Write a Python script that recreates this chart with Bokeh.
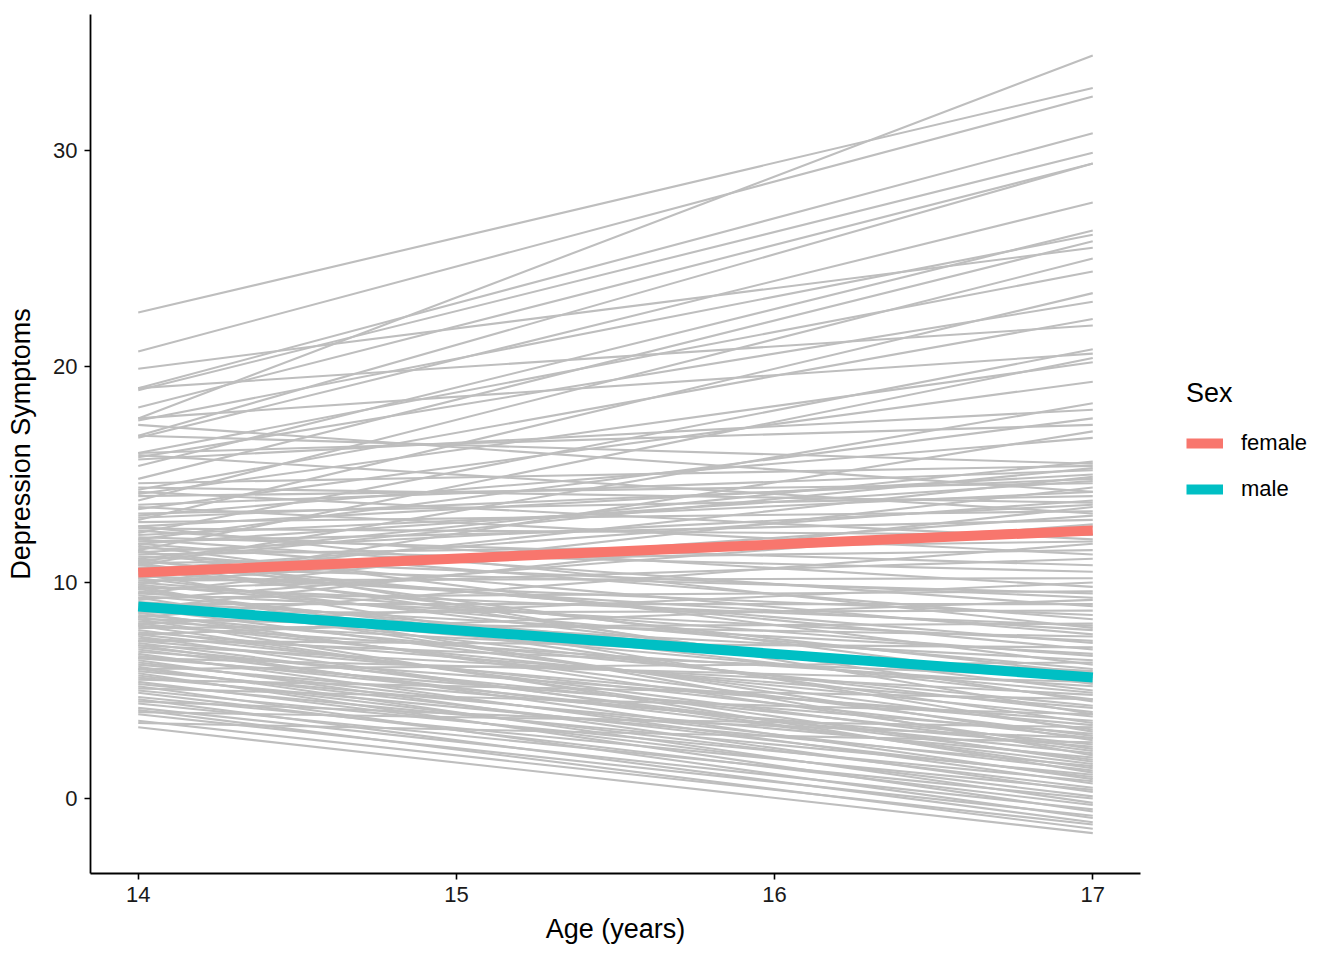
from bokeh.plotting import figure
from bokeh.layouts import row
from bokeh.models import Range1d, FixedTicker, Legend, LegendItem
from bokeh.embed import file_html
from bokeh.resources import INLINE

# ages where each person's fitted line is drawn
ages = [14, 17]

# fitted depression symptoms per person at age 14 and at age 17
dep_at_14 = [
    22.5, 20.7, 17.6, 19.0, 18.9, 18.1, 16.8, 16.7, 15.4, 17.5, 14.8, 19.9, 13.8, 16.0, 12.9, 15.8,
    14.3, 19.0, 12.3, 17.6, 11.5, 14.1, 13.4, 10.8, 15.7, 12.0, 16.0, 9.9, 13.1, 11.1, 14.6, 16.8,
    17.3, 15.9, 14.2,
    13.6, 12.6, 10.2, 11.8, 14.0, 9.5, 12.2, 13.2, 10.6, 11.4, 8.8, 12.8, 10.0, 14.4, 13.0, 11.0,
    11.9, 10.4, 9.2, 12.5, 11.3, 8.4, 10.9, 13.5, 9.7, 12.1,
    11.6, 10.1, 8.1, 12.4, 9.3, 10.7, 11.2, 7.6, 9.0, 12.0, 8.6, 10.3, 11.8, 7.9, 9.8, 10.5, 12.6,
    11.4, 8.3, 9.5, 10.8,
    11.0, 9.1, 10.0, 8.7, 11.7, 9.9, 8.2, 10.6, 7.4, 9.4, 11.1, 8.0, 10.2, 8.9, 7.1, 9.6, 10.9,
    8.5, 7.7, 9.0, 11.5, 8.1, 6.8, 9.7, 7.3, 8.8, 10.4, 6.5, 8.4, 7.6, 9.3, 7.0, 6.2, 8.6, 7.8,
    6.6, 9.8, 5.9, 7.2, 8.0, 6.9, 5.6, 7.5, 6.3, 8.3, 5.3, 6.0, 7.1, 5.0, 6.7, 5.7, 4.7, 6.4,
    5.4, 4.4, 6.1, 4.9, 4.2, 5.8, 3.9, 5.2, 4.6, 3.6, 4.1, 3.3,
    6.0, 5.5, 4.0, 3.5, 7.3, 6.5, 5.1, 4.5,
]
dep_at_17 = [
    32.9, 32.5, 34.4, 30.8, 29.9, 29.4, 29.4, 27.6, 26.3, 26.1, 25.8, 25.5, 25.0, 24.4, 23.4, 23.0,
    22.2, 21.9, 20.8, 20.6, 20.4, 20.2, 19.3, 18.3, 18.0, 17.6, 17.3, 17.0, 16.7, 15.6, 15.4, 15.5,
    14.2, 13.2, 12.0,
    15.2, 15.0, 14.9, 14.7, 14.6, 14.4, 14.2, 14.0, 13.8, 13.6, 13.5, 13.3, 13.1, 13.7, 14.8, 15.3,
    12.9, 12.6, 12.7, 12.2, 11.9, 11.8, 11.5, 11.3, 11.1, 10.8,
    10.5, 10.2, 10.0, 9.8, 9.6, 9.5, 9.3, 9.2, 9.0, 8.9, 8.7, 8.5, 8.3, 8.1, 8.0, 7.8, 7.9,
    7.6, 7.5, 7.3, 7.2,
    6.9, 6.7, 6.6, 6.4, 6.2, 6.0, 5.9, 5.8, 5.6, 5.5, 5.3, 5.2, 5.0, 4.9, 4.8, 4.6, 4.5,
    4.3, 4.2, 4.0, 3.9, 3.8, 3.6, 3.5, 3.4, 3.2, 3.1, 3.0, 2.9, 2.8, 2.7, 2.5, 2.4, 2.3, 2.2,
    2.1, 2.0, 1.9, 1.8, 1.7, 1.6, 1.5, 1.4, 1.3, 1.2, 1.1, 1.0, 0.9, 0.8, 0.7, 0.5, 0.4, 0.3,
    0.1, 0.0, -0.2, -0.3, -0.5, -0.6, -0.8, -0.9, -1.1, -1.2, -1.4, -1.6,
    6.3, 4.6, 3.3, 2.6, 7.0, 5.4, 3.9, 2.8,
]

# group mean trajectories
sexes = ["female", "male"]
sex_colors = ["#F8766D", "#00BFC4"]
female_mean = [10.46, 12.41]
male_mean = [8.89, 5.60]

FONT = "Liberation Sans"

p1 = figure(width=1150, height=952,
            min_border_left=90, min_border_top=14, min_border_bottom=79, min_border_right=10,
            x_range=Range1d(13.85, 17.15), y_range=Range1d(-3.47, 36.3),
            output_backend="svg", toolbar_location=None,
            x_axis_label="Age (years)", y_axis_label="Depression Symptoms")

p1.multi_line(xs=[ages] * len(dep_at_14), ys=[[a, b] for a, b in zip(dep_at_14, dep_at_17)],
              line_color="#BEBEBE", line_width=2.1)

p1.line(ages, female_mean, line_color=sex_colors[0], line_width=10)
p1.line(ages, male_mean, line_color=sex_colors[1], line_width=10)

p1.xaxis.ticker = FixedTicker(ticks=[14, 15, 16, 17])
p1.yaxis.ticker = FixedTicker(ticks=[0, 10, 20, 30])

for ax in (p1.xaxis, p1.yaxis):
    ax.axis_line_color = "black"
    ax.axis_line_width = 1.8
    ax.major_tick_line_color = "black"
    ax.major_tick_line_width = 1.6
    ax.major_tick_in = 0
    ax.major_tick_out = 6
    ax.minor_tick_line_color = None
    ax.major_label_text_font = FONT
    ax.major_label_text_font_size = "22px"
    ax.major_label_text_color = "#1A1A1A"
    ax.axis_label_text_font = FONT
    ax.axis_label_text_font_size = "27px"
    ax.axis_label_text_font_style = "normal"
    ax.axis_label_text_color = "black"

p1.xaxis.major_label_standoff = 7
p1.xaxis.axis_label_standoff = 9
p1.yaxis.major_label_standoff = 7
p1.yaxis.axis_label_standoff = 14

p1.xgrid.grid_line_color = None
p1.ygrid.grid_line_color = None
p1.outline_line_color = None

# legend panel: a bare figure whose copies of the mean lines sit outside its view
p2 = figure(width=194, height=952, min_border=0,
            x_range=Range1d(0, 1), y_range=Range1d(0, 1),
            x_axis_location=None, y_axis_location=None,
            output_backend="svg", toolbar_location=None)
p2.xgrid.grid_line_color = None
p2.ygrid.grid_line_color = None
p2.outline_line_color = None

k_f = p2.line(ages, female_mean, line_color=sex_colors[0], line_width=10)
k_m = p2.line(ages, male_mean, line_color=sex_colors[1], line_width=10)

legend = Legend(items=[LegendItem(label=sexes[0], renderers=[k_f]),
                       LegendItem(label=sexes[1], renderers=[k_m])],
                location=(36, 364), title="Sex",
                title_text_font=FONT, title_text_font_size="27px", title_text_font_style="normal",
                title_text_color="black", title_standoff=14,
                label_text_font=FONT, label_text_font_size="22px", label_text_color="black",
                glyph_width=37, glyph_height=40, label_standoff=18, spacing=6,
                margin=0, padding=12, border_line_color=None, background_fill_alpha=0)
p2.add_layout(legend, "center")

layout = row(p1, p2)

open("out.html", "w").write(file_html(layout, INLINE))
